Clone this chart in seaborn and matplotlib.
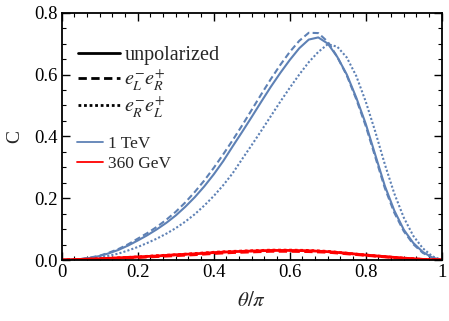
import numpy as np
import pandas as pd
import matplotlib
matplotlib.use('Agg')
import matplotlib.pyplot as plt
import seaborn as sns
from matplotlib.lines import Line2D
from matplotlib.ticker import MultipleLocator, FixedLocator

# theta/pi grid for the 1 TeV curves
theta = [0, 0.025, 0.05, 0.075, 0.1, 0.125, 0.15, 0.175, 0.2, 0.225,
         0.25, 0.275, 0.3, 0.325, 0.35, 0.375, 0.4, 0.425, 0.45, 0.475,
         0.5, 0.525, 0.55, 0.575, 0.6, 0.625, 0.65, 0.675, 0.7, 0.725,
         0.75, 0.775, 0.8, 0.825, 0.85, 0.875, 0.9, 0.925, 0.95, 0.975, 1.0]

# 1 TeV
c_1tev_unpol = [0, 0.001, 0.003, 0.007, 0.013, 0.022, 0.033, 0.047, 0.063, 0.080,
                0.099, 0.120, 0.144, 0.172, 0.203, 0.238, 0.277, 0.320, 0.368, 0.415,
                0.463, 0.512, 0.560, 0.605, 0.647, 0.685, 0.713, 0.720, 0.700, 0.657,
                0.600, 0.525, 0.440, 0.340, 0.240, 0.160, 0.098, 0.055, 0.026, 0.008, 0]
c_1tev_LR = [0, 0.001, 0.003, 0.008, 0.014, 0.024, 0.036, 0.051, 0.069, 0.087,
             0.107, 0.130, 0.156, 0.186, 0.220, 0.257, 0.298, 0.342, 0.388, 0.436,
             0.486, 0.536, 0.585, 0.631, 0.673, 0.709, 0.735, 0.734, 0.706, 0.657,
             0.597, 0.520, 0.433, 0.333, 0.233, 0.153, 0.093, 0.051, 0.023, 0.007, 0]
c_1tev_RL = [0, 0.0005, 0.002, 0.004, 0.008, 0.014, 0.021, 0.031, 0.042, 0.055,
             0.069, 0.085, 0.103, 0.124, 0.148, 0.176, 0.207, 0.242, 0.281, 0.327,
             0.372, 0.418, 0.465, 0.512, 0.557, 0.600, 0.640, 0.673, 0.698, 0.690,
             0.655, 0.595, 0.512, 0.415, 0.310, 0.215, 0.137, 0.078, 0.038, 0.012, 0]

# theta/pi grid for the 360 GeV curves
theta_360 = [0, 0.05, 0.1, 0.15, 0.2, 0.25, 0.3, 0.35, 0.4, 0.45, 0.5, 0.55, 0.6,
             0.65, 0.7, 0.75, 0.8, 0.85, 0.9, 0.95, 1.0]

# 360 GeV
c_360_unpol = [0, 0.002, 0.004, 0.007, 0.010, 0.013, 0.017, 0.020, 0.024, 0.027, 0.029, 0.031, 0.031,
               0.030, 0.027, 0.022, 0.016, 0.011, 0.006, 0.002, 0]
c_360_LR = [0, 0.001, 0.003, 0.006, 0.008, 0.011, 0.014, 0.017, 0.021, 0.024, 0.026, 0.028, 0.028,
            0.027, 0.025, 0.020, 0.015, 0.010, 0.005, 0.002, 0]
c_360_RL = [0, 0.002, 0.004, 0.007, 0.010, 0.014, 0.017, 0.021, 0.025, 0.028, 0.030, 0.032, 0.032,
            0.031, 0.028, 0.022, 0.016, 0.011, 0.006, 0.002, 0]

pol_labels = ['unpolarized', r'$e_L^{-}e_R^{+}$', r'$e_R^{-}e_L^{+}$']
energy_labels = ['1 TeV', '360 GeV']

BLUE = '#5E81B5'
RED = '#FF0000'
styles = ['-', (0, (3, 1.6)), (0, (1, 1))]

sns.set_theme(style='ticks')
plt.rcParams['font.family'] = ['Liberation Serif', 'DejaVu Serif']
plt.rcParams['mathtext.fontset'] = 'stix'

fig = plt.figure(figsize=(4.49, 3.21), dpi=100)
ax = fig.add_axes([0.1374, 0.19, 0.8466, 0.7705])

series = [(theta, c_1tev_unpol, c_1tev_LR, c_1tev_RL, BLUE, 1.5),
          (theta_360, c_360_unpol, c_360_LR, c_360_RL, RED, 2.0)]
for xs, s_unpol, s_lr, s_rl, col, lw in series:
    for vals, ls in zip([s_lr, s_rl, s_unpol], [styles[1], styles[2], styles[0]]):
        sns.lineplot(x=xs, y=vals, ax=ax, color=col, linestyle=ls, linewidth=lw)

ax.set_xlim(0, 1)
ax.set_ylim(0, 0.8)
ax.xaxis.set_major_locator(FixedLocator([0, 0.2, 0.4, 0.6, 0.8, 1.0]))
ax.set_xticklabels(['0', '0.2', '0.4', '0.6', '0.8', '1'])
ax.xaxis.set_minor_locator(MultipleLocator(1 / 30))
ax.yaxis.set_major_locator(MultipleLocator(0.2))
ax.yaxis.set_minor_locator(MultipleLocator(0.05))
ax.tick_params(which='both', direction='in', top=True, right=True, color='black',
               labelsize=13.5, labelcolor='black', pad=3)
ax.tick_params(which='major', length=5.5, width=1)
ax.tick_params(which='minor', length=3, width=0.8)
for sp in ax.spines.values():
    sp.set_color('black')
    sp.set_linewidth(1.3)

ax.set_xlabel(r'$\theta/\pi$', fontsize=15, labelpad=8)
ax.set_ylabel('C', fontsize=14)
ax.yaxis.set_label_coords(-0.102, 0.5)

h1 = [Line2D([], [], color='black', linestyle=ls, linewidth=2) for ls in styles]
leg1 = ax.legend(h1, pol_labels, loc='upper left', bbox_to_anchor=(0.022, 0.897),
                 frameon=False, fontsize=14.5, handlelength=2.1, handletextpad=0.2,
                 labelspacing=0.1, borderaxespad=0)
ax.add_artist(leg1)
h2 = [Line2D([], [], color=c, linewidth=1.3) for c in [BLUE, RED]]
ax.legend(h2, energy_labels, loc='upper left', bbox_to_anchor=(0.022, 0.53),
          frameon=False, fontsize=12.5, handlelength=1.5, handletextpad=0.3,
          labelspacing=0.2, borderaxespad=0)

fig.savefig('out.png', dpi=100)
